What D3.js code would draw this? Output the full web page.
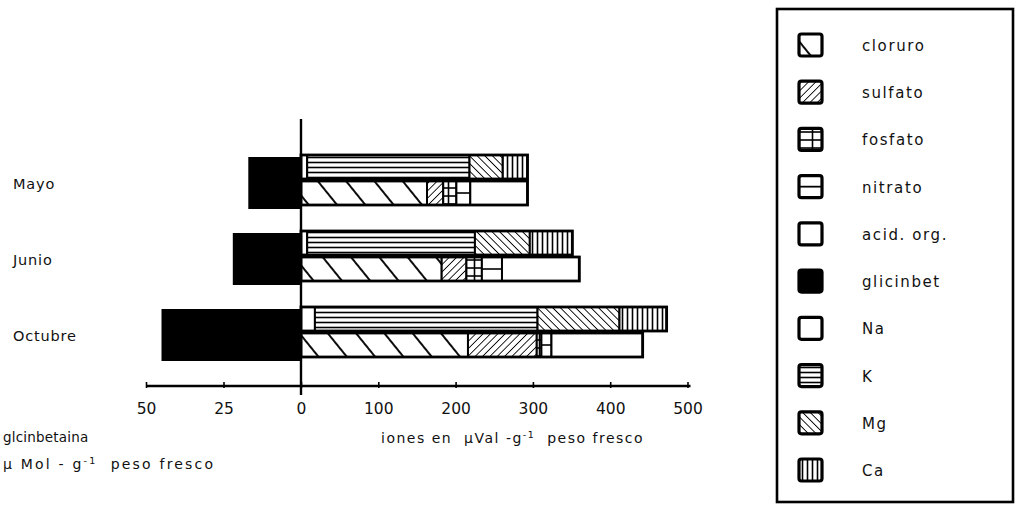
<!DOCTYPE html>
<html><head><meta charset="utf-8">
<script src="https://cdn.jsdelivr.net/npm/d3@7"></script>
<style>
html,body{margin:0;padding:0;background:#fff;}
svg{display:block;font-family:"DejaVu Sans",sans-serif;}
</style></head>
<body>
<svg id="c" width="1018" height="507"></svg>
<script>
// ---- data ----
const months = ["Mayo", "Junio", "Octubre"];
const glicinbet = [17, 22, 45];          // µMol·g-1 peso fresco
// cations (upper row)
const Na = [8, 8, 18];
const K = [210, 217, 288];
const Mg = [43, 71, 106];
const Ca = [32, 55, 61];
// anions (lower row)
const cloruro = [163, 182, 216];
const sulfato = [21, 32, 89];
const fosfato = [17, 20, 6];
const nitrato = [18, 26, 13];
const acidOrg = [74, 100, 118];
const ionTicks = [0, 100, 200, 300, 400, 500];
const glyTicks = [50, 25];
const legendKeys = ["cloruro", "sulfato", "fosfato", "nitrato", "acid. org.", "glicinbet", "Na", "K", "Mg", "Ca"];

const svg = d3.select("#c");
const defs = svg.append("defs");
function linePattern(id, w, h, rot, lines) {
  const p = defs.append("pattern").attr("id", id).attr("patternUnits", "userSpaceOnUse")
    .attr("width", w).attr("height", h);
  if (rot) p.attr("patternTransform", `rotate(${rot})`);
  p.append("rect").attr("width", w).attr("height", h).attr("fill", "#fff");
  lines.forEach(l => p.append("line").attr("x1", l[0]).attr("y1", l[1]).attr("x2", l[2]).attr("y2", l[3])
    .attr("stroke", "#000").attr("stroke-width", l[4] || 1.6));
}
linePattern("p-clor", 22, 10, -39, [[1, 0, 1, 10, 1.9]]);
linePattern("p-sulf", 5.2, 10, 45, [[0, 0, 0, 10, 1.7]]);
linePattern("p-mg", 5.4, 10, -45, [[0, 0, 0, 10, 1.8]]);
linePattern("p-k", 10, 5, 0, [[0, 2.5, 10, 2.5, 1.6]]);
linePattern("p-ca", 5, 10, 0, [[2.5, 0, 2.5, 10, 1.6]]);
linePattern("p-fos", 13, 8, 0, [[0, 4, 13, 4, 1.6], [6.5, 0, 6.5, 8, 1.6]]);

const fills = {
  "cloruro": "url(#p-clor)", "sulfato": "url(#p-sulf)", "fosfato": "url(#p-fos)",
  "nitrato": "#fff", "acid. org.": "#fff", "glicinbet": "#000", "Na": "#fff",
  "K": "url(#p-k)", "Mg": "url(#p-mg)", "Ca": "url(#p-ca)"
};

// ---- scales ----
const x0 = 301;
const xIon = d3.scaleLinear().domain([0, 500]).range([x0, 687.5]);
const xGly = d3.scaleLinear().domain([0, 50]).range([x0, 146]);
const y = d3.scaleBand().domain(months).range([155, 357]).paddingInner(26 / 76).paddingOuter(0);
const bw = y.bandwidth();

const cationSeries = [["Na", Na], ["K", K], ["Mg", Mg], ["Ca", Ca]];
const anionSeries = [["cloruro", cloruro], ["sulfato", sulfato], ["fosfato", fosfato], ["nitrato", nitrato], ["acid. org.", acidOrg]];

function stackRow(series, i) {
  let acc = 0;
  return series.map(([k, arr]) => { const s = { key: k, a: acc, b: acc + arr[i] }; acc += arr[i]; return s; });
}

const g = svg.append("g");
months.forEach((m, i) => {
  const y0 = y(m);
  g.append("rect").attr("x", xGly(glicinbet[i])).attr("y", y0 + 2).attr("width", xGly(0) - xGly(glicinbet[i]))
    .attr("height", bw + 2).attr("fill", "#000");
  const rows = [[stackRow(cationSeries, i), y0, 24], [stackRow(anionSeries, i), y0 + 26, 24]];
  rows.forEach(([segs, ry, rh]) => {
    segs.forEach(s => {
      g.append("rect").attr("x", xIon(s.a)).attr("y", ry).attr("width", xIon(s.b) - xIon(s.a)).attr("height", rh)
        .attr("fill", fills[s.key]).attr("stroke", "#000").attr("stroke-width", 2);
      if (s.key === "nitrato") {
        g.append("line").attr("x1", xIon(s.a)).attr("x2", xIon(s.b)).attr("y1", ry + rh / 2).attr("y2", ry + rh / 2)
          .attr("stroke", "#000").attr("stroke-width", 1.6);
      }
    });
    const tot = segs[segs.length - 1].b;
    g.append("rect").attr("x", xIon(0)).attr("y", ry).attr("width", xIon(tot) - xIon(0)).attr("height", rh)
      .attr("fill", "none").attr("stroke", "#000").attr("stroke-width", 2.8);
  });
  g.append("text").attr("x", 13).attr("y", y0 + bw / 2 + 9).attr("font-size", 14.5).attr("letter-spacing", 0.8)
    .attr("fill", "#111").text(m);
});

// ---- axes ----
const axY = 386;
svg.append("line").attr("x1", x0).attr("x2", x0).attr("y1", 119).attr("y2", 395).attr("stroke", "#000").attr("stroke-width", 2.4);
const axR = d3.axisBottom(xIon).tickValues(ionTicks).tickSize(4).tickPadding(10).tickFormat(d3.format("d"));
const axL = d3.axisBottom(xGly).tickValues(glyTicks).tickSize(4).tickPadding(10).tickFormat(d3.format("d"));
[axR, axL].forEach(ax => {
  const a = svg.append("g").attr("transform", `translate(0,${axY})`).call(ax);
  a.select(".domain").remove();
  a.selectAll(".tick line").attr("y1", -4).attr("y2", 2).attr("stroke", "#000").attr("stroke-width", 1.6);
  a.selectAll(".tick text").attr("font-family", "DejaVu Sans, sans-serif").attr("font-size", 15.5).attr("fill", "#111")
    .attr("dy", "0.9em");
});
svg.append("line").attr("x1", xGly(50)).attr("x2", xIon(500) + 3).attr("y1", axY).attr("y2", axY)
  .attr("stroke", "#000").attr("stroke-width", 2.6);

const NB = "\u00A0";
function unitLabel(x, yy, pre, post, ls) {
  const t = svg.append("text").attr("x", x).attr("y", yy).attr("font-size", 14).attr("fill", "#111")
    .attr("letter-spacing", ls);
  t.append("tspan").text(pre);
  t.append("tspan").attr("dy", -5).attr("font-size", 9.5).text("-1");
  t.append("tspan").attr("dy", 5).text(post);
  return t;
}
unitLabel(381, 443, `iones en${NB}${NB}µVal -g`, `${NB}${NB}peso fresco`, 1.5);
svg.append("text").attr("x", 3).attr("y", 442).attr("font-size", 13.5).attr("fill", "#111").attr("letter-spacing", 0.2).text("glcinbetaina");
unitLabel(3, 469, `µ Mol${NB}-${NB}g`, `${NB}${NB}peso fresco`, 2.2);

// ---- legend ----
const lg = svg.append("g");
lg.append("rect").attr("x", 777).attr("y", 9).attr("width", 236).attr("height", 493)
  .attr("fill", "#fff").attr("stroke", "#000").attr("stroke-width", 2.6);
const ly = d3.scalePoint().domain(legendKeys).range([45, 470]);
legendKeys.forEach(k => {
  lg.append("rect").attr("x", 799).attr("y", ly(k) - 11).attr("width", 23).attr("height", 22).attr("rx", 2.5)
    .attr("fill", fills[k]).attr("stroke", "#000").attr("stroke-width", 3.2);
  if (k === "nitrato") lg.append("line").attr("x1", 799).attr("x2", 822).attr("y1", ly(k)).attr("y2", ly(k))
    .attr("stroke", "#000").attr("stroke-width", 1.8);
  lg.append("text").attr("x", 862).attr("y", ly(k) + 6).attr("font-size", 15).attr("letter-spacing", 1.6)
    .attr("fill", "#111").text(k);
});
</script>
</body></html>
